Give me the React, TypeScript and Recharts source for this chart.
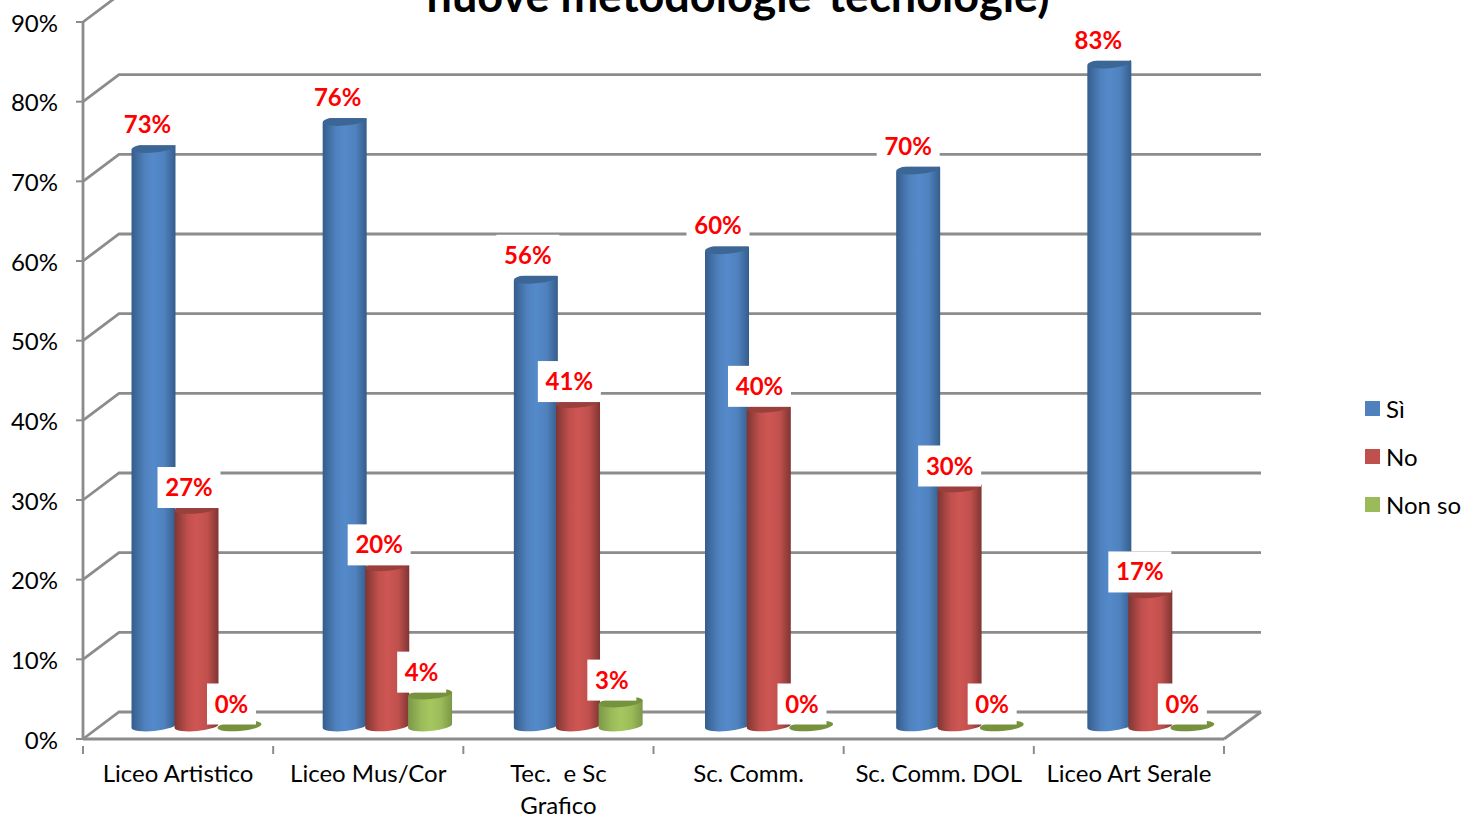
import React from 'react';
import { BarChart, Bar, XAxis, YAxis, CartesianGrid, Legend, LabelList } from 'recharts';

const categories = ['Liceo Artistico', 'Liceo Mus/Cor', 'Tec.  e Sc\nGrafico', 'Sc. Comm.', 'Sc. Comm. DOL', 'Liceo Art Serale'];
const si = [72.6, 76, 56.2, 59.9, 69.9, 83.2];
const no = [27.3, 20.1, 40.6, 40, 30, 16.7];
const nonSo = [0, 4, 3, 0, 0, 0];
const yTicks = [0, 10, 20, 30, 40, 50, 60, 70, 80, 90];

const data = categories.map((name, i) => ({ name, si: si[i], no: no[i], nonSo: nonSo[i] }));

const WIDTH = 1464;
const HEIGHT = 818;
const PLOT_LEFT = 83;
const PLOT_RIGHT = 1224;
const PLOT_TOP = 22;
const PLOT_BOTTOM = 739;
const BAND = (PLOT_RIGHT - PLOT_LEFT) / categories.length;

// depth of the fake 3D box
const DEPTH_X = 36;
const DEPTH_Y = 27;
const LINE = '#8c8c8c';
const FONT = 'Lato, Carlito, sans-serif';

const BLUE = { id: 'cylBlue', fill: '#4f81bd', edge: '#355d8c', mid: '#548acb', top: '#3c6696', spread: 1 };
const RED = { id: 'cylRed', fill: '#c0504d', edge: '#7f3533', mid: '#ce5653', top: '#993f3c', spread: 0.6 };
const GREEN = { id: 'cylGreen', fill: '#9bbb59', edge: '#7b9848', mid: '#a5c75f', top: '#76923c', spread: 0.4 };

const Cylinder = (props: any) => {
  const { x, y, width, height, tone, index } = props;
  // bars stand in the middle of the box depth, the 3D view spreads them a little
  const cx = x + width / 2 + DEPTH_X / 2 + index * tone.spread;
  const rx = width / 2 + 0.5;
  const ry = 5;
  const tilt = 2;
  const base = y + height - 13;
  const top = y - 13;
  const topEllipse = <ellipse cx={cx} cy={top} rx={rx} ry={ry} fill={tone.top} transform={`rotate(-5 ${cx} ${top})`} />;
  if (height < 1) return topEllipse;
  const body = `M${cx - rx},${top + tilt} L${cx - rx},${base + tilt} A${rx},${ry} -5 0 0 ${cx + rx},${base - tilt} L${cx + rx},${top - tilt} Z`;
  return (
    <g>
      <path d={body} fill={`url(#${tone.id})`} />
      {topEllipse}
    </g>
  );
};

const BoxLabel = (props: any) => {
  const { x, y, width, value, lift, shift } = props;
  const cx = x + width / 2 + DEPTH_X / 2 - shift;
  const cy = y - 13 - lift;
  const text = `${Math.round(value)}%`;
  const w = text.length === 2 ? 49 : 63;
  return (
    <g>
      <rect x={cx - w / 2} y={cy - 20.5} width={w} height={41} fill="#fff" />
      <text x={cx} y={cy + 8.5} textAnchor="middle" fontFamily={FONT} fontWeight={700} fontSize={24} fill="#ff0000">
        {text}
      </text>
    </g>
  );
};

const GridLine = (props: any) => {
  const { x1, x2, y1 } = props;
  return (
    <g fill="none" stroke={LINE} strokeWidth={2.8}>
      <polyline points={`${x1},${y1} ${x1 + DEPTH_X},${y1 - DEPTH_Y} ${x2 + DEPTH_X + 1},${y1 - DEPTH_Y}`} />
      {y1 > PLOT_BOTTOM - 1 && <line x1={x2} y1={y1} x2={x2 + DEPTH_X + 1} y2={y1 - DEPTH_Y} />}
    </g>
  );
};

const CategoryTick = (props: any) => {
  const { x, y, payload, index } = props;
  const lines = String(payload.value).split('\n');
  const left = x - BAND / 2;
  return (
    <g>
      <line x1={left} y1={y - 1} x2={left} y2={y + 7} stroke={LINE} strokeWidth={2} />
      {index === categories.length - 1 && <line x1={x + BAND / 2} y1={y - 1} x2={x + BAND / 2} y2={y + 7} stroke={LINE} strokeWidth={2} />}
      {lines.map((line, i) => (
        <text key={i} x={x} y={y + 35 + i * 32} textAnchor="middle" fontFamily={FONT} fontSize={24} fill="#000" style={{ whiteSpace: 'pre' }}>
          {line}
        </text>
      ))}
    </g>
  );
};

const LegendBox = ({ payload }: any) => (
  <div>
    {(payload || []).map((entry: any) => (
      <div key={entry.value} style={{ display: 'flex', alignItems: 'center', height: 48, fontFamily: FONT, fontSize: 24, color: '#000' }}>
        <span style={{ width: 15, height: 15, background: entry.color, marginRight: 6 }} />
        {entry.value}
      </div>
    ))}
  </div>
);

export default function App() {
  return (
    <div style={{ position: 'absolute', left: 0, top: 0, width: WIDTH, height: HEIGHT, background: '#fff', overflow: 'hidden' }}>
      <div
        style={{
          position: 'absolute',
          left: 0,
          width: 1476,
          top: -29,
          textAlign: 'center',
          fontFamily: FONT,
          fontWeight: 700,
          fontSize: 45,
          lineHeight: '48px',
          color: '#000',
        }}
      >
        nuove metodologie-tecnologie)
      </div>
      <BarChart
        width={WIDTH}
        height={HEIGHT}
        data={data}
        margin={{ top: PLOT_TOP, right: WIDTH - PLOT_RIGHT, bottom: 0, left: 0 }}
        barCategoryGap={30}
        barGap={0}
        barSize={43}
        style={{ position: 'absolute', left: 0, top: 0 }}
      >
        <defs>
          {[BLUE, RED, GREEN].map((t) => (
            <linearGradient key={t.id} id={t.id} x1="0" y1="0" x2="1" y2="0">
              <stop offset="0" stopColor={t.edge} />
              <stop offset="0.3" stopColor={t.fill} />
              <stop offset="0.5" stopColor={t.mid} />
              <stop offset="0.75" stopColor={t.fill} />
              <stop offset="1" stopColor={t.edge} />
            </linearGradient>
          ))}
        </defs>
        <CartesianGrid vertical={false} horizontal={GridLine as any} stroke={LINE} />
        <XAxis
          dataKey="name"
          interval={0}
          height={HEIGHT - PLOT_BOTTOM}
          axisLine={{ stroke: LINE, strokeWidth: 2.8 }}
          tickLine={false}
          tick={CategoryTick as any}
        />
        <YAxis
          width={PLOT_LEFT}
          domain={[0, 90]}
          ticks={yTicks}
          interval={0}
          tickFormatter={(v: number) => `${v}%`}
          axisLine={{ stroke: LINE, strokeWidth: 2.8 }}
          tickLine={{ stroke: LINE, strokeWidth: 2 }}
          tickSize={7}
          tickMargin={18}
          tick={{ fontFamily: FONT, fontSize: 24, fill: '#000', dy: 1 }}
        />
        <Legend
          layout="vertical"
          align="center"
          verticalAlign="middle"
          itemSorter={null as any}
          wrapperStyle={{ left: 1365, top: 384, width: 99, right: 'auto', bottom: 'auto' }}
          content={LegendBox as any}
        />
        <Bar dataKey="si" name="Sì" fill={BLUE.fill} isAnimationActive={false} shape={(p: any) => <Cylinder {...p} tone={BLUE} />}>
          <LabelList dataKey="si" content={((p: any) => <BoxLabel {...p} lift={23} shift={6} />) as any} />
        </Bar>
        <Bar dataKey="no" name="No" fill={RED.fill} isAnimationActive={false} shape={(p: any) => <Cylinder {...p} tone={RED} />}>
          <LabelList dataKey="no" content={((p: any) => <BoxLabel {...p} lift={21} shift={7.5} />) as any} />
        </Bar>
        <Bar dataKey="nonSo" name="Non so" fill={GREEN.fill} isAnimationActive={false} shape={(p: any) => <Cylinder {...p} tone={GREEN} />}>
          <LabelList dataKey="nonSo" content={((p: any) => <BoxLabel {...p} lift={22} shift={8} />) as any} />
        </Bar>
      </BarChart>
    </div>
  );
}
